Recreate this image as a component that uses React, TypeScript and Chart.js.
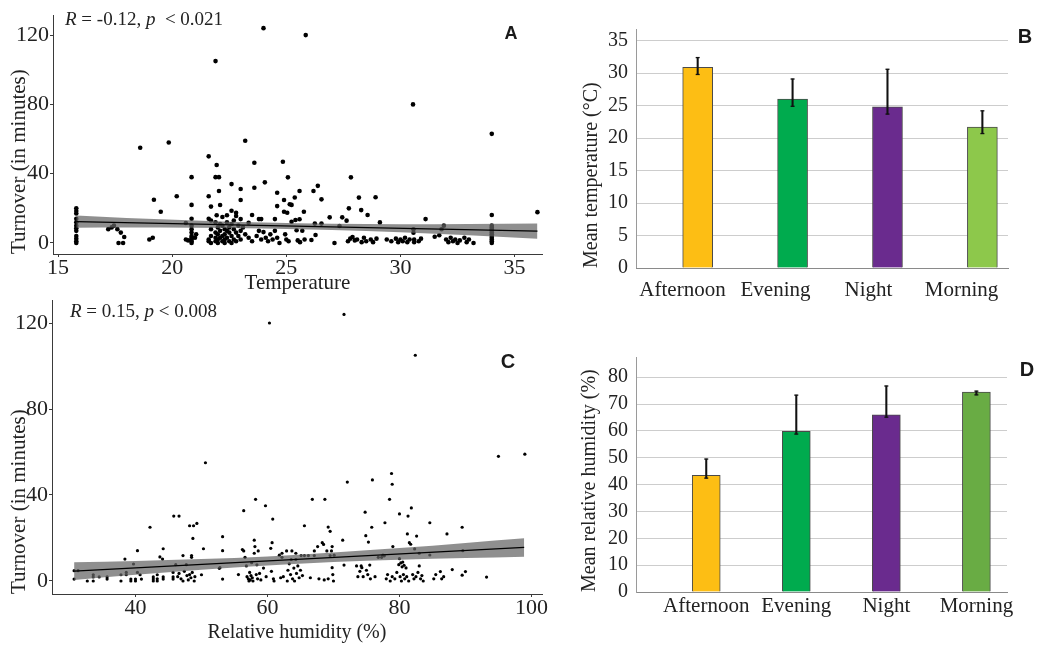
import React, { useEffect, useRef } from 'react';
import { Chart, registerables } from 'chart.js';

Chart.register(...registerables);

const SERIF = '"Liberation Serif", "Times New Roman", serif';
const SANS = '"Liberation Sans", Arial, sans-serif';
const TXT = '#222222';
const AXIS = '#3a3a3a';

// ---------- Panel A : Temperature vs Turnover ----------
const temperatureTurnover: [number, number][] = [
  [15.8, 0], [15.8, 1], [15.8, 2.5], [15.8, 4], [15.8, 7], [15.8, 8.5], [15.8, 10], [15.8, 12], [15.8, 14], [15.8, 17], [15.8, 18.5], [15.8, 20],
  [17.2, 8], [17.35, 9], [17.45, 10], [17.6, 8], [17.75, 6], [17.9, 3.5], [17.65, 0], [17.85, 0], [19.0, 2], [19.15, 3],
  [18.6, 55], [19.85, 58], [19.2, 25], [19.5, 18], [20.2, 27],
  [20.85, 38], [20.85, 22], [20.85, 14], [20.6, 11.5], [20.85, 10], [20.85, 8], [20.85, 6], [20.85, 4], [20.85, 3], [20.85, 2], [20.85, 1], [20.85, 0], [20.6, 2], [20.7, 1.5], [21.05, 5], [21.0, 3],
  [21.6, 50], [21.6, 27], [21.6, 14], [21.6, 2], [21.6, 1], [21.7, 21], [21.7, 13], [21.7, 8], [21.7, 4], [21.7, 0], [21.9, 38], [21.9, 12], [21.9, 6], [21.9, 3], [21.9, 1], [21.9, 105],
  [21.95, 45], [21.95, 16], [22.0, 9], [22.0, 5], [22.0, 2], [22.0, 0], [22.05, 38], [22.05, 30], [22.1, 21.9], [22.1, 11], [22.1, 7], [22.1, 3], [22.2, 15], [22.2, 10], [22.2, 4], [22.2, 1],
  [22.3, 8], [22.3, 5], [22.3, 2], [22.3, 0], [22.4, 16], [22.4, 12], [22.4, 7], [22.4, 3], [22.5, 9], [22.5, 6], [22.5, 1], [22.6, 18.6], [22.6, 34], [22.6, 11], [22.6, 4], [22.6, 0],
  [22.7, 13], [22.7, 8], [22.7, 2], [22.8, 15.6], [22.8, 17.4], [22.8, 6], [22.8, 1], [22.9, 10], [22.9, 4], [23.0, 31.2], [23.0, 24.8], [23.0, 13.8], [23.0, 7], [23.0, 2], [23.1, 9],
  [23.2, 59], [23.2, 5], [23.35, 11.7], [23.35, 3],
  [23.5, 16.2], [23.5, 1], [23.6, 46.3], [23.6, 31.9], [23.7, 4], [23.8, 13.8], [23.8, 7], [23.9, 13.8], [23.9, 2], [24.0, 124], [24.0, 6.3], [24.06, 35], [24.1, 3], [24.2, 1], [24.3, 5],
  [24.4, 2], [24.5, 13.8], [24.5, 7], [24.6, 29], [24.6, 21.3], [24.6, 3], [24.7, 0], [24.85, 46.9], [24.9, 24.8], [24.9, 18], [24.95, 5], [25.0, 2], [25.04, 17.5], [25.07, 37.9], [25.1, 1],
  [25.15, 22.4], [25.23, 22], [25.23, 12.3], [25.37, 26.3], [25.4, 13.3], [25.45, 7.4], [25.5, 1.5], [25.58, 30], [25.58, 13.7], [25.6, 0.5], [25.7, 7.1], [25.77, 18], [25.8, 2], [25.85, 120],
  [26.1, 1.7], [26.19, 30], [26.25, 11.2], [26.28, 4.6], [26.38, 33], [26.54, 25.2], [26.54, 11.2],
  [26.9, 14.8], [27.11, 0], [27.33, 9.8], [27.45, 14.8], [27.64, 12.9], [27.74, 20], [27.83, 37.9], [27.7, 1], [27.8, 2.5], [27.9, 3.5], [28.0, 1.5], [28.1, 2], [28.18, 26.2], [28.28, 19],
  [28.3, 0.5], [28.4, 3], [28.5, 1], [28.56, 16.2], [28.7, 2], [28.8, 0.5], [28.91, 26.4], [28.95, 2.5], [29.1, 11.9],
  [29.4, 2], [29.6, 1], [29.8, 2.5], [29.9, 0.5], [30.0, 2], [30.1, 1], [30.2, 3], [30.3, 0.5], [30.4, 2], [30.55, 80], [30.57, 7.9], [30.57, 5.9], [30.6, 2], [30.6, 0.5], [30.8, 1], [30.9, 2.5],
  [31.1, 13.8], [31.5, 3.6], [31.7, 4.5], [31.8, 7.9], [31.9, 10], [32.0, 2], [32.1, 0.5], [32.2, 3], [32.3, 1], [32.4, 2], [32.5, 0], [32.6, 1.5], [32.8, 3], [32.9, 0.5], [33.0, 2], [33.2, 0],
  [34.0, 0], [34.0, 1], [34.0, 2], [34.0, 3], [34.0, 4], [34.0, 5], [34.0, 6], [34.0, 7], [34.0, 8], [34.0, 9], [34.0, 10], [34.0, 16.2], [34.0, 63], [36.0, 17.8],
];
const fitTempX = [15.8, 36.0];
const fitTempY = [12.3, 6.9];
const bandTempX = [15.8, 18, 21, 24, 27, 30, 33, 36];
const bandTempLow = [8.8, 8.9, 8.8, 8.4, 7.5, 6.2, 4.5, 2.5];
const bandTempHigh = [15.8, 14.5, 13.0, 11.8, 11.1, 10.8, 10.9, 11.2];

// ---------- Panel C : Relative humidity vs Turnover ----------
const humidityTurnover: [number, number][] = [
  [30.7, 4.8], [31.3, 4.8], [30.7, 0.9], [32.7, 0], [33.6, 0], [33.6, 2.9], [33.6, 1.9], [34.5, 1.9], [35.7, 1.9], [35.7, 0.9], [37.8, 2.9], [37.8, 0], [38.6, 4], [38.6, 2.9], [39.3, 0.9],
  [39.3, 0], [40, 0.9], [40, 0], [40.3, 4], [40.7, 2.9], [40.9, 0.9], [38.4, 10.2], [39.7, 7.9], [40.3, 14.1],
  [42.2, 25], [42.7, 1.9], [42.7, 0.9], [42.7, 0], [43.3, 2.9], [43.3, 0], [43.3, 1], [43.7, 11.2], [44.1, 10.2], [44.2, 15], [44.2, 1.9], [44.2, 0.9], [45.7, 4], [45.7, 1.9], [45.7, 0.9],
  [45.8, 30.2], [46.6, 30.2], [46.1, 7.6], [46.4, 2], [46.6, 3.5], [46.9, 1], [47.2, 11.8], [47.2, 0], [47.4, 4.5], [47.7, 7.6], [47.8, 2.5], [48.0, 0.5], [48.2, 25.7], [48.5, 11.8], [48.5, 11],
  [48.2, 3], [48.4, 1.5], [48.7, 19.8], [48.8, 25.7], [48.6, 4], [48.9, 0], [49.0, 2], [49.3, 26.8], [50.0, 2.9], [50.3, 15], [50.6, 55], [52.8, 6.2],
  [53.2, 20.6], [53.2, 14.1], [52.7, 5.9], [53.2, 0.9], [55.6, 3], [56.2, 14.6], [56.4, 14], [56.4, 32.7], [56.6, 11], [56.8, 7], [56.9, 2], [57.1, 1], [57.2, 0], [57.3, 4], [57.4, 0.5],
  [57.5, 2.5], [57.6, 8.5], [57.7, 1.5], [57.8, 0], [58.0, 19], [58.0, 12.9], [58.1, 16], [58.2, 38], [58.3, 3], [58.4, 7.5], [58.5, 1], [58.6, 14], [58.8, 3.5], [59.0, 0.5], [59.4, 6],
  [59.7, 35], [59.8, 2], [60.3, 120], [60.5, 15.2], [60.7, 17.8], [60.8, 28.8], [60.6, 4.5], [60.9, 1], [61.0, 0],
  [61.8, 12], [62.0, 1.5], [62.2, 12.9], [62.2, 11], [62.4, 2], [62.9, 14], [63.0, 0], [63.1, 5], [63.3, 8], [63.5, 3], [63.6, 10], [63.7, 14], [63.8, 1], [64.0, 6], [64.1, 0], [64.3, 12.9],
  [64.3, 10], [64.4, 3.5], [64.6, 7], [64.8, 1.5], [65.1, 11.8], [65.0, 5], [65.3, 2.5], [65.6, 25.7], [65.6, 11.8], [66.2, 11.8], [66.8, 38], [66.5, 1.5], [67.1, 14], [67.1, 11.8], [67.6, 16],
  [67.8, 1], [68.3, 17.8], [68.5, 17], [68.7, 38], [68.6, 0.5], [69.0, 14], [69.2, 25.1], [69.2, 1], [69.5, 23.1], [69.5, 11.8], [69.7, 14], [69.8, 16], [69.8, 6.2], [69.9, 3], [70.0, 0], [70.1, 12],
  [71.4, 19], [71.6, 7.4], [71.6, 124], [72.1, 46], [73.5, 7], [73.7, 2], [74.0, 4.5], [74.2, 7], [74.3, 6.2], [74.5, 2], [74.8, 32], [74.9, 21.1], [75.0, 5], [75.2, 3], [75.3, 18.1], [75.5, 7.4],
  [75.6, 1], [75.8, 25], [75.9, 47], [76.3, 2], [76.8, 11], [77.3, 11], [77.5, 12], [77.7, 11.7], [77.8, 27.1], [78.0, 1], [78.2, 3], [78.5, 38], [78.6, 0], [78.8, 50], [78.9, 45], [78.9, 2],
  [79.0, 16], [79.3, 1], [79.6, 4], [79.9, 7.6], [80.0, 31.2], [80.0, 10.4], [80.1, 2], [80.2, 8.4], [80.3, 0], [80.4, 6.6], [80.5, 8.8], [80.6, 3], [80.7, 7.3], [80.8, 1], [81.0, 6.1], [81.1, 2],
  [81.2, 21.9], [81.3, 30.2], [81.4, 0], [81.5, 17.8], [81.7, 17.1], [81.8, 34], [82.0, 3], [82.2, 1], [82.3, 14.9], [82.4, 105], [82.5, 2], [82.6, 20.9], [82.8, 4], [83.0, 12.9], [83.0, 7],
  [83.2, 1], [83.4, 2.5], [83.6, 0],
  [84.6, 27.1], [84.6, 12.1], [85.2, 1], [85.5, 3], [86.2, 4.4], [86.4, 1], [86.7, 2], [87.2, 21.9], [88.0, 5.3], [89.5, 25], [89.5, 2.7], [89.6, 14.1], [90.0, 4.4], [93.2, 1.8], [95.0, 58], [99.0, 59],
];
const fitHumX = [30.7, 98.9];
const fitHumY = [4.6, 15.6];
const bandHumX = [30.7, 40, 50, 60, 64, 70, 80, 90, 98.9];
const bandHumLow = [0.5, 2.9, 5.2, 7.2, 7.9, 8.8, 9.9, 10.7, 11.3];
const bandHumHigh = [8.7, 9.3, 10.2, 11.4, 12.1, 13.2, 15.3, 17.7, 19.9];

// ---------- Panels B & D : period means ----------
const periods = ['Afternoon', 'Evening', 'Night', 'Morning'];
const meanTemp = [30.9, 26.0, 24.8, 21.7];
const tempErrLow = [29.8, 24.9, 23.7, 20.7];
const tempErrHigh = [32.4, 29.1, 30.6, 24.2];
const tempColors = ['#FDBE14', '#00AB4E', '#6A2B8E', '#8DC84B'];

const meanHum = [43.4, 59.8, 66.0, 74.4];
const humErrLow = [42.4, 58.8, 65.1, 73.4];
const humErrHigh = [49.5, 73.3, 76.7, 74.8];
const humColors = ['#FDBE14', '#00AB4E', '#6A2B8E', '#69AC44'];

const pts = (xs: number[], ys: number[]) => xs.map((x, i) => ({ x, y: ys[i] }));

function scatterConfig(o: any) {
  return {
    type: 'scatter',
    data: {
      datasets: [
        { type: 'line', data: pts(o.fitX, o.fitY), borderColor: '#000', borderWidth: 1.2, pointRadius: 0, fill: false, order: 0 },
        { type: 'line', data: pts(o.bandX, o.bandLow), borderWidth: 0, borderColor: 'rgba(0,0,0,0)', pointRadius: 0, fill: false, cubicInterpolationMode: 'monotone', order: 1 },
        { type: 'line', data: pts(o.bandX, o.bandHigh), borderWidth: 0, borderColor: 'rgba(0,0,0,0)', pointRadius: 0, fill: '-1', backgroundColor: 'rgba(100,100,100,0.72)', cubicInterpolationMode: 'monotone', order: 1 },
        { type: 'scatter', data: o.points.map(([x, y]: [number, number]) => ({ x, y })), pointRadius: o.r, backgroundColor: '#000', borderWidth: 0, order: 2 },
      ],
    },
    options: {
      animation: false,
      responsive: false,
      events: [],
      layout: { padding: { left: 0, top: o.padTop, right: o.padRight, bottom: 0 } },
      plugins: { legend: { display: false }, tooltip: { enabled: false } },
      scales: {
        x: {
          type: 'linear', min: o.xMin, max: o.xMax,
          afterFit: (s: any) => { s.height = o.xH; },
          grid: { display: true, drawOnChartArea: false, drawTicks: true, tickLength: 3, color: AXIS },
          border: { display: true, color: AXIS, width: 1 },
          ticks: { stepSize: o.xStep, includeBounds: false, padding: o.xTickPad, color: TXT, autoSkip: false, maxRotation: 0, font: { family: SERIF, size: 22, lineHeight: 1 } },
          title: { display: true, text: o.xTitle, color: TXT, font: { family: SERIF, size: o.xTitleSize, lineHeight: 1 }, padding: { top: 0, bottom: o.xTitlePad } },
        },
        y: {
          type: 'linear', min: o.yMin, max: o.yMax,
          afterFit: (s: any) => { s.width = o.yW; },
          grid: { display: true, drawOnChartArea: false, drawTicks: true, tickLength: 3, color: AXIS },
          border: { display: true, color: AXIS, width: 1 },
          ticks: { stepSize: 40, includeBounds: false, padding: 1, color: TXT, font: { family: SERIF, size: 22, lineHeight: 1 } },
          title: { display: true, text: 'Turnover (in minutes)', align: 'start', color: TXT, font: { family: SERIF, size: 21, lineHeight: 1 }, padding: { top: 8.5, bottom: 0 } },
        },
      },
    },
  };
}

function barConfig(o: any) {
  const xs = o.values.map((_: number, i: number) => i + 1);
  const scales: any = {
    x: {
      type: 'linear', min: o.xMin, max: o.xMax, offset: false,
      display: o.labelsOnBars,
      afterBuildTicks: (s: any) => { s.ticks = xs.map((v: number) => ({ value: v })); },
      afterFit: (s: any) => { s.height = o.labelsOnBars ? o.xH : 0; },
      grid: { display: false, drawTicks: false, offset: false },
      border: { display: true, color: '#8a8a8a', width: 1 },
      ticks: { autoSkip: false, maxRotation: 0, padding: o.xTickPad, color: TXT, font: { family: SERIF, size: 21, lineHeight: 1 }, callback: (v: number) => periods[Math.round(v) - 1] },
    },
    y: {
      type: 'linear', min: 0, max: o.yMax,
      afterFit: (s: any) => { s.width = 76; },
      grid: { display: true, drawTicks: false, color: '#cdcdcd', lineWidth: 1 },
      border: { display: true, color: '#9a9a9a', width: 1 },
      ticks: { stepSize: o.yStep, includeBounds: false, padding: 8, color: TXT, font: { family: SERIF, size: 20, lineHeight: 1 } },
      title: { display: true, text: o.yTitle, align: 'start', color: TXT, font: { family: SERIF, size: 20, lineHeight: 1 }, padding: { top: o.yTitlePad, bottom: 0 } },
    },
  };
  if (!o.labelsOnBars) {
    scales.xLabels = {
      type: 'category', position: 'bottom', labels: periods, offset: true,
      afterFit: (s: any) => { s.height = o.xH; },
      grid: { display: false, drawTicks: false },
      border: { display: true, color: '#8a8a8a', width: 1 },
      ticks: { autoSkip: false, maxRotation: 0, padding: o.xTickPad, color: TXT, font: { family: SERIF, size: 21, lineHeight: 1 } },
    };
  }
  return {
    type: 'bar',
    data: {
      datasets: [
        { type: 'bar', xAxisID: 'x', yAxisID: 'y', data: xs.map((x: number, i: number) => ({ x, y: [o.errLow[i], o.errHigh[i]] })), backgroundColor: '#111', borderWidth: 0, barThickness: 1.4, grouped: false, order: 0 },
        { type: 'scatter', xAxisID: 'x', yAxisID: 'y', data: [...xs.map((x: number, i: number) => ({ x, y: o.errLow[i] })), ...xs.map((x: number, i: number) => ({ x, y: o.errHigh[i] }))], pointStyle: 'line', pointRadius: 2, borderColor: '#111', borderWidth: 1.3, order: 0 },
        { type: 'bar', xAxisID: 'x', yAxisID: 'y', data: xs.map((x: number, i: number) => ({ x, y: o.values[i] })), backgroundColor: o.colors, borderColor: '#4a4a4a', borderWidth: 1, barThickness: o.barW, grouped: false, order: 1 },
      ],
    },
    options: {
      animation: false,
      responsive: false,
      events: [],
      layout: { padding: { left: 0, top: o.padTop, right: o.padRight, bottom: 0 } },
      plugins: { legend: { display: false }, tooltip: { enabled: false } },
      scales,
    },
  };
}

const ChartBox = ({ left, top, width, height, make }: { left: number; top: number; width: number; height: number; make: () => any }) => {
  const ref = useRef<HTMLCanvasElement | null>(null);
  useEffect(() => {
    if (!ref.current) return;
    const chart = new Chart(ref.current, make());
    return () => chart.destroy();
  }, []);
  return <canvas ref={ref} width={width} height={height} style={{ position: 'absolute', left, top, width, height }} />;
};

const Letter = ({ x, y, size, children }: { x: number; y: number; size: number; children: React.ReactNode }) => (
  <div style={{ position: 'absolute', left: x, top: y, transform: 'translate(-50%, -50%)', fontFamily: SANS, fontWeight: 'bold', fontSize: size, lineHeight: 1, color: '#1a1a1a' }}>{children}</div>
);

const Stat = ({ x, y, children }: { x: number; y: number; children: React.ReactNode }) => (
  <div style={{ position: 'absolute', left: x, top: y, transform: 'translateY(-50%)', fontFamily: SERIF, fontSize: 19, lineHeight: 1, color: TXT, whiteSpace: 'pre' }}>{children}</div>
);

export default function App() {
  return (
    <div style={{ position: 'fixed', left: 0, top: 0, width: 1037, height: 646, background: '#fff', overflow: 'hidden' }}>
      <ChartBox left={0} top={0} width={550} height={300} make={() => scatterConfig({
        points: temperatureTurnover, fitX: fitTempX, fitY: fitTempY, bandX: bandTempX, bandLow: bandTempLow, bandHigh: bandTempHigh,
        r: 2.3, padTop: 15, padRight: 8, xMin: 14.78, xMax: 36.2, xStep: 5, xH: 46, xTickPad: 0, xTitle: 'Temperature', xTitleSize: 21, xTitlePad: 6,
        yMin: -6.35, yMax: 131.6, yW: 53,
      })} />
      <ChartBox left={0} top={280} width={550} height={366} make={() => scatterConfig({
        points: humidityTurnover, fitX: fitHumX, fitY: fitHumY, bandX: bandHumX, bandLow: bandHumLow, bandHigh: bandHumHigh,
        r: 1.6, padTop: 20, padRight: 8, xMin: 27.35, xMax: 101.6, xStep: 20, xH: 52, xTickPad: 0, xTitle: 'Relative humidity (%)', xTitleSize: 20, xTitlePad: 3,
        yMin: -6.05, yMax: 130.7, yW: 52,
      })} />
      <ChartBox left={560} top={0} width={477} height={320} make={() => barConfig({
        values: meanTemp, errLow: tempErrLow, errHigh: tempErrHigh, colors: tempColors, barW: 30,
        xMin: 0.35, xMax: 4.27, xH: 52, xTickPad: 11.5, labelsOnBars: false,
        yMax: 36.8, yStep: 5, yTitle: 'Mean temperature (°C)', yTitlePad: 21.7, padTop: 29, padRight: 29,
      })} />
      <ChartBox left={560} top={320} width={477} height={326} make={() => barConfig({
        values: meanHum, errLow: humErrLow, errHigh: humErrHigh, colors: humColors, barW: 28,
        xMin: 0.22, xMax: 4.34, xH: 54, xTickPad: 3.5, labelsOnBars: true,
        yMax: 87.5, yStep: 10, yTitle: 'Mean relative humidity (%)', yTitlePad: 20, padTop: 37, padRight: 30,
      })} />
      <Stat x={65} y={18}><i>R</i> = -0.12, <i>p</i>  &lt; 0.021</Stat>
      <Stat x={70} y={310}><i>R</i> = 0.15, <i>p</i> &lt; 0.008</Stat>
      <Letter x={511} y={33} size={18}>A</Letter>
      <Letter x={1025} y={36} size={20}>B</Letter>
      <Letter x={508} y={361} size={20}>C</Letter>
      <Letter x={1027} y={369} size={20}>D</Letter>
    </div>
  );
}
